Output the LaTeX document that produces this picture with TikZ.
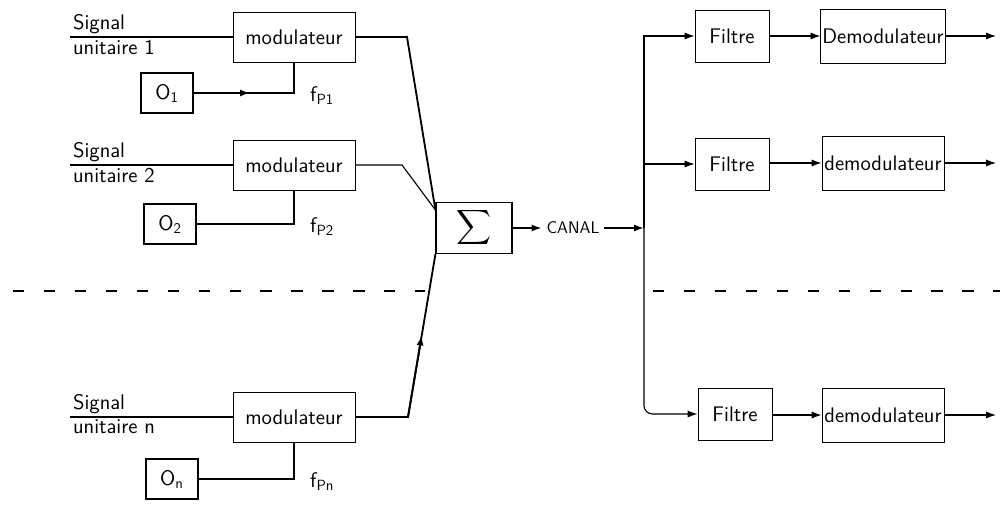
\documentclass[tikz,border=0pt]{standalone}
\usepackage{fontspec}
\usepackage{amsmath}
\usetikzlibrary{positioning,calc,arrows.meta}

\begin{document}
\begin{tikzpicture}[
          x=0.025cm,y=-0.025cm,
          every node/.style={font=\fontsize{15}{18}\selectfont\sffamily},
          blk/.style={draw,line width=0.6pt,minimum width=3.05cm,minimum height=1.25cm,inner sep=1pt},
          osc/.style={draw,line width=0.8pt,minimum width=1.3cm,minimum height=1cm,inner sep=1pt},
          fil/.style={draw,line width=0.6pt,minimum width=1.85cm,minimum height=1.3cm,inner sep=1pt},
          wire/.style={line width=1.3pt},
          thin wire/.style={line width=0.8pt},
          arr/.style={-{Latex[length=7pt,width=5pt]}},
        ]
        \useasboundingbox (0,0) rectangle (1006,506);
        % emission side
        \foreach \i/\n/\ym/\xo/\yo in {1/1/37/167/93, 2/2/165/170/224, n/n/417/172/479} {
          \node[blk] (mod\i) at (294,\ym) {modulateur};
          \node[osc] (osc\i) at (\xo,\yo) {O$_{\mathsf{\n}}$};
          \coordinate (in\i) at (70,\ym);
          \coordinate (k\i) at (mod\i.south |- osc\i.east);
          \node[anchor=south west,inner sep=2pt] (sig\i) at (in\i) {Signal};
          \node[anchor=north west,inner sep=2pt] (uni\i) at (in\i) {unitaire \n};
          \node[right=8pt of k\i,yshift=-2pt] (fp\i) {f$_{\mathsf{P\n}}$};
          \draw[wire] (in\i) -- (mod\i.west);
          \draw[wire] (osc\i.east) -- (k\i) -- (mod\i.south);
        }
        \coordinate (a1) at (250,93);
        \draw[wire,arr] (osc1.east) -- (a1);
        % sum and channel
        \node[osc,minimum width=1.9cm,minimum height=1.28cm] (sum) at (474,228) {\fontsize{17}{20}\selectfont$\displaystyle\sum$};
        \node (canal) at (573,228) {\fontsize{12}{14}\selectfont CANAL};
        \coordinate (b1) at (407,37);
        \coordinate (b2) at (402,165);
        \coordinate (bn) at (408,417);
        \draw[wire] (mod1.east) -- (b1) -- (sum.155);
        \draw[thin wire] (mod2.east) -- (b2) -- (sum.155);
        \draw[wire] (modn.east) -- (bn) -- (sum.south west);
        \draw[wire,arr] (bn) -- ($(bn)!0.5!(sum.south west)$);
        \draw[wire,arr] (sum.east) -- (canal.west);
        \coordinate (bus) at (644,228);
        \draw[wire,arr] (canal.east) -- (bus);
        % reception side
        \foreach \i/\xf/\yf/\yd/\dlab in {1/732/36/36/Demodulateur, 2/732/164/163/demodulateur, 3/735/414/415/demodulateur} {
          \node[fil] (fil\i) at (\xf,\yf) {Filtre};
          \node[blk,minimum height=1.35cm] (dem\i) at (883,\yd) {\dlab};
          \coordinate (out\i) at (996,\yd);
          \draw[thin wire,arr] (fil\i.east |- dem\i.west) -- (dem\i.west);
          \draw[thin wire,arr] (dem\i.east) -- (out\i);
        }
        \draw[thin wire,arr] (bus) |- (fil1.west);
        \draw[thin wire,arr,rounded corners=6pt] (bus) |- (fil3.west);
        \draw[thin wire,arr] (bus |- fil2.west) -- (fil2.west);
        % separation
        \draw[thin wire,dashed,dash pattern=on 8pt off 14pt] (13,291) -- (425,291);
        \draw[thin wire,dashed,dash pattern=on 8pt off 14pt] (653,291) -- (1000,291);
      \end{tikzpicture}
\end{document}
